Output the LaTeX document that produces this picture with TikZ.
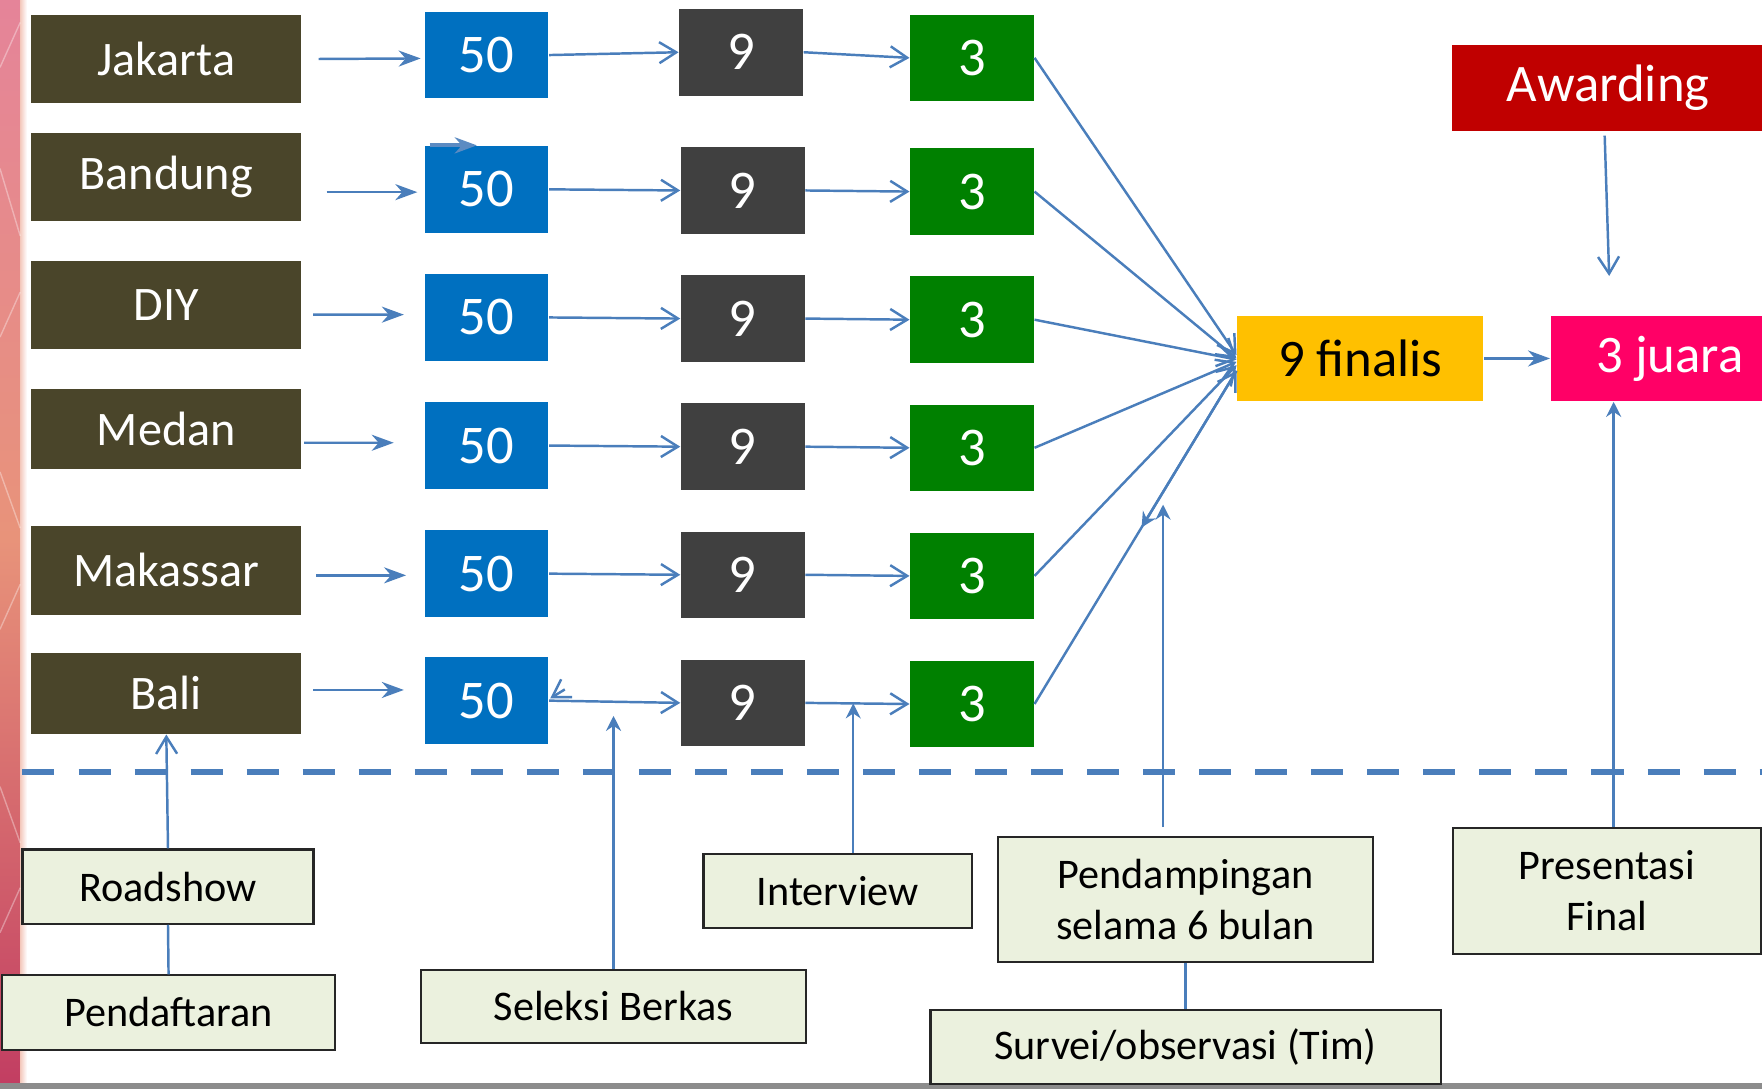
\documentclass[tikz,border=0pt]{standalone}
\usepackage{fontspec}
\setmainfont{Carlito}
\usepackage{xcolor}
\usetikzlibrary{arrows.meta,calc}
\definecolor{regbrown}{HTML}{4A452A}
\definecolor{quotablue}{HTML}{0070C0}
\definecolor{pickgray}{HTML}{404040}
\definecolor{trioGreen}{HTML}{008000}
\definecolor{finyellow}{HTML}{FFC000}
\definecolor{winpink}{HTML}{FF0066}
\definecolor{awdred}{HTML}{C00000}
\definecolor{stagefill}{HTML}{EBF1DE}
\definecolor{linkblue}{HTML}{4A7EBB}
\definecolor{stripA}{HTML}{E58499}
\definecolor{stripB}{HTML}{E8937A}
\definecolor{stripC}{HTML}{C23E62}
\def\px{0.011237cm}

\begin{document}
\begin{tikzpicture}[
      x=\px, y=-\px,
      box/.style = {shape=rectangle, inner sep=0pt, align=center},
      region/.style = {box, fill=regbrown, text=white, minimum width=240*\px, minimum height=79*\px, font=\fontsize{13.7}{16}\selectfont},
      numbox/.style = {box, text=white, minimum width=110*\px, minimum height=77*\px, font=\fontsize{15.5}{18}\selectfont},
      quota/.style = {numbox, fill=quotablue},
      pick/.style = {numbox, fill=pickgray},
      trio/.style = {numbox, fill=trioGreen},
      final/.style = {box, minimum height=76*\px, font=\fontsize{15}{18}\selectfont},
      stage/.style = {box, draw=black!85, line width=0.6pt, fill=stagefill, minimum height=66*\px, font=\fontsize{12}{14.5}\selectfont},
      link/.style = {draw=linkblue, line width=0.7pt, -{Straight Barb[length=1.7mm,width=2.1mm]}},
      feed/.style = {draw=linkblue, line width=0.7pt, -{Stealth[length=2.2mm,width=1.6mm,inset=0.7mm]}},
      lift/.style = {draw=linkblue, line width=0.7pt, -{Stealth[length=1.5mm,width=1.5mm,inset=0.5mm]}},
      plain/.style = {draw=linkblue, line width=0.7pt},
      divider/.style = {draw=linkblue, line width=1.7pt, dash pattern=on 0.32cm off 0.24cm}
    ]
  \useasboundingbox (0,0) rectangle (1568,969);
  \shade[top color=stripA, bottom color=stripB] (0,0) rectangle (18,480);
  \shade[top color=stripB, bottom color=stripC] (0,480) rectangle (18,964);
  \shade[left color=stripB!50, right color=white] (18,0) rectangle (24,964);
  \draw[white, opacity=0.35, line width=0.4pt] (0,60) -- (18,20) (0,150) -- (18,210) (0,300) -- (18,260) (0,420) -- (18,470) (0,560) -- (18,520) (0,700) -- (18,750) (0,830) -- (18,790);
  \fill[black!45] (0,964) rectangle (1568,969);

  \node[region] (jkt) at (148,52.5) {Jakarta};
  \node[region] (bdg) at (148,157.5) {Bandung};
  \node[region] (diy) at (148,271.5) {DIY};
  \node[region, minimum height=71*\px] (mdn) at (148,381.5) {Medan};
  \node[region] (mks) at (148,507.5) {Makassar};
  \node[region, minimum height=72*\px] (bali) at (148,617) {Bali};

  \node[quota] (q1) at (433,49) {50};
  \node[quota] (q2) at (433,168.5) {50};
  \node[quota] (q3) at (433,282.5) {50};
  \node[quota] (q4) at (433,396.5) {50};
  \node[quota] (q5) at (433,510.5) {50};
  \node[quota] (q6) at (433,623.5) {50};

  \node[pick] (p1) at (659.5,46.5) {9};
  \node[pick] (p2) at (661,169.5) {9};
  \node[pick] (p3) at (661,283.5) {9};
  \node[pick] (p4) at (661,397.5) {9};
  \node[pick] (p5) at (661,511.5) {9};
  \node[pick] (p6) at (661,625.5) {9};

  \node[trio] (w1) at (865,51.5) {3};
  \node[trio] (w2) at (865,170.5) {3};
  \node[trio] (w3) at (865,284.5) {3};
  \node[trio] (w4) at (865,398.5) {3};
  \node[trio] (w5) at (865,512.5) {3};
  \node[trio] (w6) at (865,626.5) {3};

  \node[final, fill=finyellow, minimum width=219*\px] (fin) at (1210.5,319) {9 finalis};
  \node[final, fill=winpink, text=white, minimum width=212*\px] (jua) at (1486,319) {3 juara};
  \node[final, fill=awdred, text=white, minimum width=278*\px, minimum height=77*\px] (awd) at (1431,78.5) {Awarding};

  \draw[divider] (20,687) -- (1568,687);

  \node[stage, minimum width=259*\px] (rds) at (149.5,789) {Roadshow};
  \node[stage, minimum width=296*\px] (pdf) at (150,901) {Pendaftaran};
  \node[stage, minimum width=342*\px, minimum height=65*\px] (sel) at (546,895.5) {Seleksi Berkas};
  \node[stage, minimum width=239*\px] (intv) at (745.5,793) {Interview};
  \node[stage, minimum width=334*\px, minimum height=111*\px] (pend) at (1055,800.5) {Pendampingan\\selama 6 bulan};
  \node[stage, minimum width=454*\px] (srv) at (1055,932) {Survei/observasi (Tim)};
  \node[stage, minimum width=274*\px, minimum height=112*\px] (pres) at (1430,793) {Presentasi\\Final};

  \draw[feed] ($(jkt.east)+(15,0)$) -- ($(q1.west)+(-3,3)$);
  \draw[feed] ($(bdg.east)+(22,13.5)$) -- ($(q2.west)+(-6,2.5)$);
  \draw[feed] ($(diy.east)+(10,8.5)$) -- ($(q3.west)+(-18,-2.5)$);
  \draw[feed] ($(mdn.east)+(2,12.5)$) -- ($(q4.west)+(-27,-2.5)$);
  \draw[feed] ($(mks.east)+(13,4.5)$) -- ($(q5.west)+(-16,1.5)$);
  \draw[feed] ($(bali.east)+(10,-3)$) -- ($(q6.west)+(-18,-9.5)$);
  \draw[feed, line width=1.2pt, draw=linkblue!90] ($(q2.north west)+(5,0)$) -- ++(42,0);

  \draw[link] (q1.east) -- (p1.west);
  \draw[link] (q2.east) -- (p2.west);
  \draw[link] (q3.east) -- (p3.west);
  \draw[link] (q4.east) -- (p4.west);
  \draw[link] (q5.east) -- (p5.west);
  \draw[link] (q6.east) -- (p6.west);
  \draw[link] ($(q6.east)+(14,-10)$) -- ($(q6.east)+(1,-2)$);

  \draw[link] (p1.east) -- (w1.west);
  \draw[link] (p2.east) -- (w2.west);
  \draw[link] (p3.east) -- (w3.west);
  \draw[link] (p4.east) -- (w4.west);
  \draw[link] (p5.east) -- (w5.west);
  \draw[link] (p6.east) -- (w6.west);

  \coordinate (finlow) at ($(fin.west)+(0,11)$);
  \coordinate (bm) at ($(w6.east)!0.53!(finlow)$);
  \draw[link] (w1.east) -- ($(fin.west)+(0,-3)$);
  \draw[link] (w2.east) -- (fin.west);
  \draw[link] (w3.east) -- ($(fin.west)+(0,1)$);
  \draw[link] (w4.east) -- ($(fin.west)+(0,3)$);
  \draw[link] (w5.east) -- ($(fin.west)+(0,6)$);
  \draw[link] (w6.east) -- (finlow);
  \draw[lift] (finlow) -- (bm);

  \draw[feed] (fin.east) -- (jua.west);
  \coordinate (awdtip) at ($(awd.south)+(1,128)$);
  \draw[link] ($(awd.south)+(-3,3)$) -- (awdtip);
  \coordinate (presup) at ($(pres.north)+(6,0)$);
  \draw[lift] (presup) -- (presup |- jua.south);

  \coordinate (mid6) at ($(p6.east)!0.46!(w6.west)$);
  \draw[lift] (mid6 |- intv.north) -- (mid6);
  \draw[lift] (sel.north) -- ($(sel.north)+(0,-225)$);
  \draw[lift] ($(pend.north)+(-20,-8)$) -- ($(pend.north)+(-20,-295)$);
  \draw[link] (rds.north) -- (bali.south);
  \draw[plain] (rds.south) -- (pdf.north);
  \draw[plain] (pend.south) -- (srv.north);
\end{tikzpicture}
\end{document}
